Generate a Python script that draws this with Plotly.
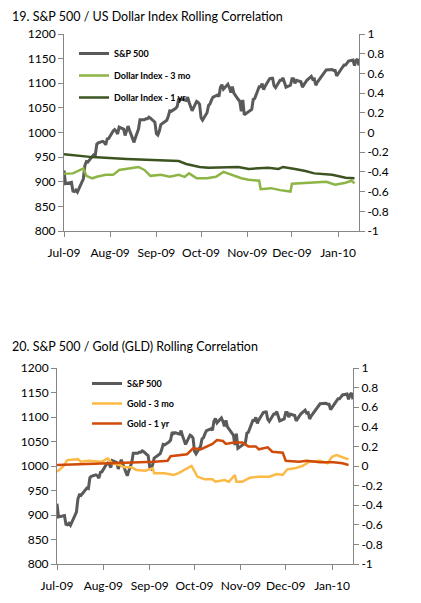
import plotly.graph_objects as go

# S&P 500 daily closes (trading days), shared by both panels
spx_dates = [
    "2009-07-01", "2009-07-02", "2009-07-06", "2009-07-07", "2009-07-08", "2009-07-09", "2009-07-10",
    "2009-07-13", "2009-07-14", "2009-07-15", "2009-07-16", "2009-07-17", "2009-07-20", "2009-07-21",
    "2009-07-22", "2009-07-23", "2009-07-24", "2009-07-27", "2009-07-28", "2009-07-29", "2009-07-30",
    "2009-07-31", "2009-08-03", "2009-08-04", "2009-08-05", "2009-08-06", "2009-08-07", "2009-08-10",
    "2009-08-11", "2009-08-12", "2009-08-13", "2009-08-14", "2009-08-17", "2009-08-18", "2009-08-19",
    "2009-08-20", "2009-08-21", "2009-08-24", "2009-08-25", "2009-08-26", "2009-08-27", "2009-08-28",
    "2009-08-31", "2009-09-01", "2009-09-02", "2009-09-03", "2009-09-04", "2009-09-08", "2009-09-09",
    "2009-09-10", "2009-09-11", "2009-09-14", "2009-09-15", "2009-09-16", "2009-09-17", "2009-09-18",
    "2009-09-21", "2009-09-22", "2009-09-23", "2009-09-24", "2009-09-25", "2009-09-28", "2009-09-29",
    "2009-09-30", "2009-10-01", "2009-10-02", "2009-10-05", "2009-10-06", "2009-10-07", "2009-10-08",
    "2009-10-09", "2009-10-12", "2009-10-13", "2009-10-14", "2009-10-15", "2009-10-16", "2009-10-19",
    "2009-10-20", "2009-10-21", "2009-10-22", "2009-10-23", "2009-10-26", "2009-10-27", "2009-10-28",
    "2009-10-29", "2009-10-30", "2009-11-02", "2009-11-03", "2009-11-04", "2009-11-05", "2009-11-06",
    "2009-11-09", "2009-11-10", "2009-11-11", "2009-11-12", "2009-11-13", "2009-11-16", "2009-11-17",
    "2009-11-18", "2009-11-19", "2009-11-20", "2009-11-23", "2009-11-24", "2009-11-25", "2009-11-27",
    "2009-11-30", "2009-12-01", "2009-12-02", "2009-12-03", "2009-12-04", "2009-12-07", "2009-12-08",
    "2009-12-09", "2009-12-10", "2009-12-11", "2009-12-14", "2009-12-15", "2009-12-16", "2009-12-17",
    "2009-12-18", "2009-12-21", "2009-12-22", "2009-12-23", "2009-12-24", "2009-12-28", "2009-12-29",
    "2009-12-30", "2009-12-31", "2010-01-04", "2010-01-05", "2010-01-06", "2010-01-07", "2010-01-08",
    "2010-01-11", "2010-01-12", "2010-01-13", "2010-01-14", "2010-01-15",
]
spx_close = [
    923, 896, 899, 881, 880, 883, 879,
    901, 906, 933, 941, 940, 951, 955,
    954, 976, 979, 982, 980, 975, 987,
    988, 1003, 1006, 1003, 997, 1011, 1007,
    994, 1006, 1013, 1004, 980, 990, 997,
    1007, 1026, 1026, 1028, 1028, 1031, 1029,
    1021, 998, 995, 1003, 1016, 1025, 1033,
    1044, 1043, 1049, 1053, 1069, 1066, 1068,
    1065, 1072, 1061, 1051, 1044, 1063, 1061,
    1057, 1030, 1025, 1040, 1055, 1058, 1066,
    1072, 1076, 1073, 1092, 1097, 1088, 1098,
    1091, 1081, 1093, 1080, 1067, 1063, 1043,
    1066, 1036, 1043, 1045, 1047, 1067, 1069,
    1093, 1093, 1099, 1087, 1094, 1109, 1110,
    1110, 1095, 1091, 1106, 1106, 1111, 1092,
    1096, 1109, 1109, 1100, 1106, 1103, 1092,
    1096, 1102, 1106, 1114, 1108, 1109, 1096,
    1102, 1114, 1118, 1121, 1127, 1128, 1126,
    1126, 1115, 1133, 1137, 1137, 1142, 1145,
    1147, 1136, 1146, 1149, 1136,
]

# Panel 19: dollar index rolling correlations
usd3_dates = [
    "2009-07-01", "2009-07-07", "2009-07-14", "2009-07-16", "2009-07-20", "2009-07-23", "2009-07-29",
    "2009-08-03", "2009-08-07", "2009-08-13", "2009-08-20", "2009-08-24", "2009-08-28", "2009-09-04",
    "2009-09-10", "2009-09-16", "2009-09-20", "2009-09-23", "2009-09-28", "2009-10-05", "2009-10-11",
    "2009-10-16", "2009-10-22", "2009-10-28", "2009-11-02", "2009-11-09", "2009-11-10", "2009-11-17",
    "2009-11-23", "2009-11-30", "2009-12-01", "2009-12-07", "2009-12-16", "2009-12-24", "2009-12-30",
    "2010-01-06", "2010-01-10", "2010-01-12",
]
usd3_corr = [
    -0.42, -0.415, -0.365, -0.44, -0.465, -0.45, -0.43,
    -0.43, -0.38, -0.365, -0.35, -0.38, -0.44, -0.43,
    -0.45, -0.43, -0.45, -0.415, -0.465, -0.465, -0.45,
    -0.40, -0.43, -0.465, -0.48, -0.49, -0.575, -0.565,
    -0.585, -0.60, -0.52, -0.515, -0.51, -0.50, -0.53,
    -0.51, -0.49, -0.515,
]
usd1_dates = [
    "2009-07-01", "2009-07-20", "2009-08-12", "2009-09-03", "2009-09-16", "2009-09-21", "2009-09-30",
    "2009-10-06", "2009-10-17", "2009-10-26", "2009-11-02", "2009-11-15", "2009-11-22", "2009-11-25",
    "2009-12-03", "2009-12-10", "2009-12-16", "2009-12-28", "2010-01-06", "2010-01-12",
]
usd1_corr = [
    -0.22, -0.25, -0.27, -0.28, -0.29, -0.32, -0.35,
    -0.357, -0.35, -0.35, -0.37, -0.357, -0.37, -0.35,
    -0.37, -0.39, -0.415, -0.43, -0.46, -0.465,
]

# Panel 20: gold (GLD) rolling correlations
gld3_dates = [
    "2009-07-01", "2009-07-05", "2009-07-08", "2009-07-15", "2009-07-17", "2009-07-22", "2009-07-31",
    "2009-08-04", "2009-08-07", "2009-08-12", "2009-08-15", "2009-08-20", "2009-08-23", "2009-08-29",
    "2009-09-03", "2009-09-04", "2009-09-11", "2009-09-17", "2009-09-20", "2009-09-24", "2009-09-29",
    "2009-10-03", "2009-10-08", "2009-10-13", "2009-10-15", "2009-10-21", "2009-10-24", "2009-10-28",
    "2009-10-29", "2009-11-02", "2009-11-07", "2009-11-13", "2009-11-20", "2009-11-25", "2009-11-29",
    "2009-12-02", "2009-12-07", "2009-12-12", "2009-12-17", "2009-12-24", "2009-12-29", "2010-01-01",
    "2010-01-04", "2010-01-08", "2010-01-12",
]
gld3_corr = [
    -0.058, -0.007, 0.06, 0.07, 0.044, 0.054, 0.044,
    0.078, 0.027, 0.01, -0.014, -0.014, -0.04, -0.048,
    -0.024, -0.075, -0.075, -0.092, -0.075, -0.04, 0.0,
    -0.11, -0.136, -0.136, -0.16, -0.143, -0.16, -0.092,
    -0.16, -0.16, -0.119, -0.109, -0.109, -0.082, -0.092,
    -0.034, -0.024, 0.0, 0.044, 0.054, 0.027, 0.095,
    0.112, 0.089, 0.068,
]
gld1_dates = [
    "2009-07-01", "2009-07-22", "2009-08-13", "2009-09-04", "2009-09-13", "2009-09-15", "2009-09-26",
    "2009-09-30", "2009-10-05", "2009-10-13", "2009-10-16", "2009-10-20", "2009-10-22", "2009-10-27",
    "2009-11-02", "2009-11-06", "2009-11-11", "2009-11-13", "2009-11-19", "2009-11-22", "2009-11-29",
    "2009-12-01", "2009-12-10", "2009-12-15", "2009-12-24", "2010-01-02", "2010-01-08", "2010-01-12",
]
gld1_corr = [
    0.01, 0.02, 0.038, 0.044, 0.054, 0.10, 0.12,
    0.18, 0.17, 0.225, 0.265, 0.255, 0.225, 0.24,
    0.24, 0.20, 0.20, 0.17, 0.19, 0.146, 0.136,
    0.054, 0.044, 0.054, 0.038, 0.038, 0.027, 0.01,
]

month_ticks = ["2009-07-01", "2009-08-01", "2009-09-01", "2009-10-01",
               "2009-11-01", "2009-12-01", "2010-01-01"]
month_labels = ["Jul-09", "Aug-09", "Sep-09", "Oct-09", "Nov-09", "Dec-09", "Jan-10"]
corr_ticks = [-1, -0.8, -0.6, -0.4, -0.2, 0, 0.2, 0.4, 0.6, 0.8, 1]
corr_labels = ["-1", "-0.8", "-0.6", "-0.4", "-0.2", "0", "0.2", "0.4", "0.6", "0.8", "1"]

W, H = 421, 603
FONT = "Lato"
AXIS_GREY = "#868686"


def px_x(a, b):
    return [a / W, b / W]


def px_y(top, bottom):
    return [1 - bottom / H, 1 - top / H]


fig = go.Figure()

# top panel
fig.add_trace(go.Scatter(x=spx_dates, y=spx_close, name="S&P 500", mode="lines",
                         line=dict(color="#5a5a5a", width=3), xaxis="x", yaxis="y",
                         legend="legend", legendgroup="a"))
fig.add_trace(go.Scatter(x=usd3_dates, y=usd3_corr, name="Dollar Index - 3 mo", mode="lines",
                         line=dict(color="#8cb545", width=2.5), xaxis="x", yaxis="y2",
                         legend="legend", legendgroup="b"))
fig.add_trace(go.Scatter(x=usd1_dates, y=usd1_corr, name="Dollar Index - 1 yr", mode="lines",
                         line=dict(color="#3c5420", width=2.5), xaxis="x", yaxis="y2",
                         legend="legend", legendgroup="c"))

# bottom panel
fig.add_trace(go.Scatter(x=spx_dates, y=spx_close, name="S&P 500", mode="lines",
                         line=dict(color="#5a5a5a", width=3), xaxis="x2", yaxis="y3",
                         legend="legend2", legendgroup="d"))
fig.add_trace(go.Scatter(x=gld3_dates, y=gld3_corr, name="Gold - 3 mo", mode="lines",
                         line=dict(color="#fdb945", width=2.5), xaxis="x2", yaxis="y4",
                         legend="legend2", legendgroup="e"))
fig.add_trace(go.Scatter(x=gld1_dates, y=gld1_corr, name="Gold - 1 yr", mode="lines",
                         line=dict(color="#d14b08", width=2.5), xaxis="x2", yaxis="y4",
                         legend="legend2", legendgroup="f"))

axis_common = dict(showline=True, linecolor=AXIS_GREY, linewidth=1, ticks="outside",
                   tickcolor=AXIS_GREY, ticklen=5, showgrid=False, zeroline=False,
                   automargin=False,
                   tickfont=dict(family=FONT, size=12, color="#000000"))

x_common = dict(axis_common, type="date", range=["2009-07-01", "2010-01-15"],
                tickvals=month_ticks, ticktext=month_labels, ticklabelstandoff=6)
left_common = dict(axis_common, range=[800, 1200], dtick=50, side="left")
right_common = dict(axis_common, range=[-1, 1], tickvals=corr_ticks,
                    ticktext=corr_labels, side="right")

legend_common = dict(bgcolor="rgba(0,0,0,0)", borderwidth=0,
                     xanchor="left", yanchor="top",
                     font=dict(family=FONT, size=9, color="#000000", weight="bold"))

fig.update_layout(
    template="none",
    width=W, height=H,
    hovermode=False,
    margin=dict(l=0, r=0, t=0, b=0, autoexpand=False),
    paper_bgcolor="white", plot_bgcolor="white",
    xaxis=dict(x_common, domain=px_x(64, 359), anchor="y"),
    yaxis=dict(left_common, domain=px_y(34, 231), anchor="x"),
    yaxis2=dict(right_common, overlaying="y", anchor="x"),
    xaxis2=dict(x_common, domain=px_x(57, 353), anchor="y3"),
    yaxis3=dict(left_common, domain=px_y(368, 564), anchor="x2"),
    yaxis4=dict(right_common, overlaying="y3", anchor="x2"),
    legend=dict(legend_common, x=74 / W, y=1 - 39 / H, tracegroupgap=3),
    legend2=dict(legend_common, x=87 / W, y=1 - 369 / H, tracegroupgap=1),
    annotations=[
        dict(text="19. S&P 500 / US Dollar Index Rolling Correlation", x=10 / W, y=1 - 17 / H,
             xref="paper", yref="paper", xanchor="left", yanchor="middle", showarrow=False,
             font=dict(family=FONT, size=12.5, color="#000000")),
        dict(text="20. S&P 500 / Gold (GLD) Rolling Correlation", x=10 / W, y=1 - 346 / H,
             xref="paper", yref="paper", xanchor="left", yanchor="middle", showarrow=False,
             font=dict(family=FONT, size=12.5, color="#000000")),
    ],
)

fig.write_html("out.html", config={"displayModeBar": False},
               post_script="document.body.style.margin='0';")
